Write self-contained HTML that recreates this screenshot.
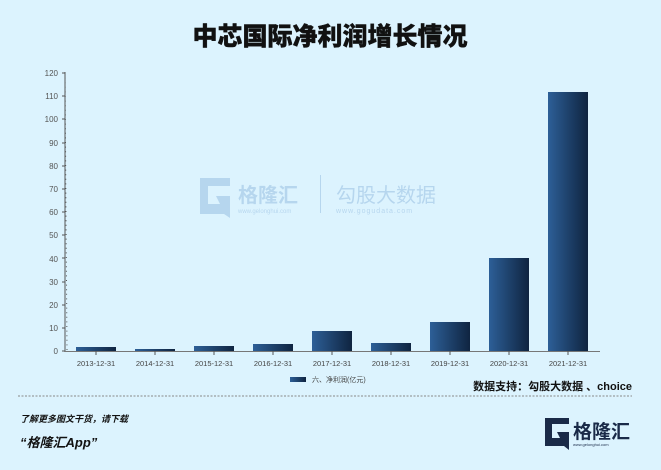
<html><head><style>body{margin:0;width:661px;height:470px;background:#dcf3fe;font-family:"Liberation Sans","Noto Sans CJK SC",sans-serif;overflow:hidden;position:relative}</style></head><body>
<svg width="661" height="470" style="position:absolute;left:0;top:0">
<defs><linearGradient id="g" x1="0" x2="1"><stop offset="0" stop-color="#2d5f97"/><stop offset="1" stop-color="#0f2440"/></linearGradient></defs>
<text x="330" y="45" text-anchor="middle" font-size="25" font-weight="900" fill="#111" stroke="#111" stroke-width="0.4" font-family="Noto Sans CJK SC,sans-serif">中芯国际净利润增长情况</text>
<g font-size="8" fill="#555" text-anchor="end">
<text x="58" y="354">0</text><text x="58" y="331">10</text><text x="58" y="308">20</text><text x="58" y="285">30</text><text x="58" y="262">40</text><text x="58" y="238">50</text><text x="58" y="215">60</text><text x="58" y="192">70</text><text x="58" y="169">80</text><text x="58" y="146">90</text><text x="58" y="122">100</text><text x="58" y="99">110</text><text x="58" y="76">120</text>
</g>
<line x1="65" y1="72" x2="65" y2="352" stroke="#555" stroke-width="1"/>
<line x1="65" y1="351.5" x2="600" y2="351.5" stroke="#777"/>
<g stroke="#555">
<path d="M62 351H65M62 328H65M62 305H65M62 282H65M62 258H65M62 235H65M62 212H65M62 189H65M62 166H65M62 143H65M62 119H65M62 96H65M62 73H65"/>
</g>
<g stroke="#555" stroke-dasharray="1,3.6"><line x1="65" y1="73" x2="67" y2="351"/></g>
<g opacity=".45" fill="#8ab4dc">
<path d="M200 178h30v8h-22v18h12l-4-8h14v22l-6-4h-24z"/>
<text x="238" y="202" font-size="20" font-weight="bold" font-family="Noto Sans CJK SC,sans-serif">格隆汇</text>
<text x="238" y="213" font-size="6">www.gelonghui.com</text>
<rect x="320" y="175" width="1" height="38"/>
<text x="336" y="202" font-size="20" font-family="Noto Sans CJK SC,sans-serif">勾股大数据</text>
<text x="336" y="213" font-size="7" letter-spacing="1">www.gogudata.com</text>
</g>
<g fill="url(#g)">
<rect x="76" y="347" width="40" height="4"/>
<rect x="135" y="349" width="40" height="2"/>
<rect x="194" y="346" width="40" height="5"/>
<rect x="253" y="344" width="40" height="7"/>
<rect x="312" y="331" width="40" height="20"/>
<rect x="371" y="343" width="40" height="8"/>
<rect x="430" y="322" width="40" height="29"/>
<rect x="489" y="258" width="40" height="93"/>
<rect x="548" y="92" width="40" height="259"/>
</g>
<g stroke="#555"><path d="M96 351v4M155 351v4M214 351v4M273 351v4M332 351v4M391 351v4M450 351v4M509 351v4M568 351v4"/></g>
<g font-size="7.5" fill="#444" text-anchor="middle">
<text x="96" y="366">2013-12-31</text><text x="155" y="366">2014-12-31</text><text x="214" y="366">2015-12-31</text><text x="273" y="366">2016-12-31</text><text x="332" y="366">2017-12-31</text><text x="391" y="366">2018-12-31</text><text x="450" y="366">2019-12-31</text><text x="509" y="366">2020-12-31</text><text x="568" y="366">2021-12-31</text>
</g>
<rect x="290" y="377" width="16" height="5" fill="url(#g)"/>
<text x="312" y="382" font-size="7" fill="#444">六、净利润(亿元)</text>
<text x="632" y="390" text-anchor="end" font-size="11" font-weight="bold" fill="#111">数据支持：勾股大数据 、choice</text>
<line x1="18" y1="396" x2="632" y2="396" stroke="#888" stroke-dasharray="2,1.5"/>
<text x="20" y="422" font-size="9" font-weight="bold" font-style="italic" fill="#111">了解更多图文干货，请下载</text>
<text x="20" y="447" font-size="13" font-weight="bold" font-style="italic" fill="#111">“格隆汇App”</text>
<path d="M545 418h24v6h-17v14h8l-3-6h12v18l-5-4h-19z" fill="#1a2a48"/>
<text x="573" y="438" font-size="19" font-weight="bold" fill="#1a2a48" font-family="Noto Sans CJK SC,sans-serif">格隆汇</text>
<text x="573" y="446" font-size="4" fill="#1a2a48">www.gelonghui.com</text>
</svg>
</body></html>
